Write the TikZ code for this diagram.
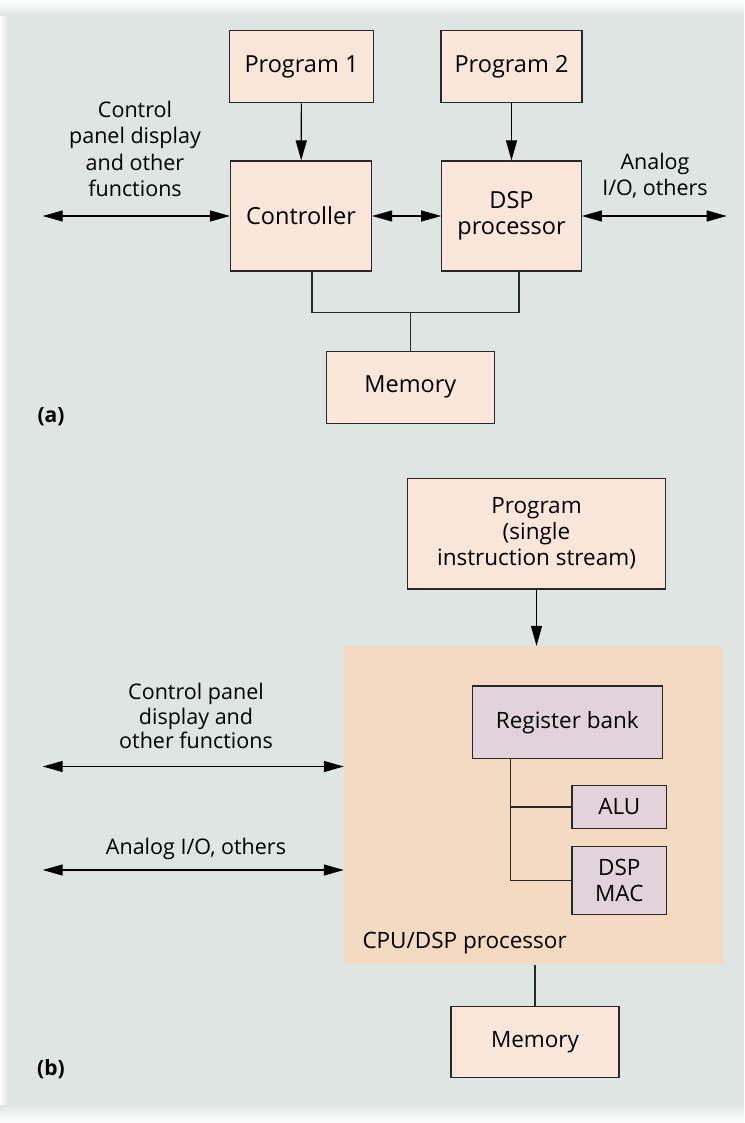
\documentclass[tikz,border=0pt]{standalone}
\usepackage{fontspec}
\setmainfont{Open Sans}
\usepackage{tikz}
\usetikzlibrary{arrows.meta}

\definecolor{bgcol}{RGB}{221,230,226}
\definecolor{boxpink}{RGB}{252,229,218}
\definecolor{cpupeach}{RGB}{243,218,192}
\definecolor{reglilac}{RGB}{226,211,219}
\definecolor{edgecol}{RGB}{40,40,40}

\tikzset{
  unitbox/.style={draw=edgecol, line width=1.2pt, fill=boxpink, inner sep=0pt, align=center},
  innerbox/.style={unitbox, fill=reglilac},
  onearrow/.style={line width=1.2pt, -{Triangle[length=20pt,width=11pt]}},
  twoarrow/.style={line width=1.2pt, {Triangle[length=20pt,width=11pt]}-{Triangle[length=20pt,width=11pt]}},
  bus/.style={line width=1.2pt, draw=edgecol},
  atext/.style={font=\fontsize{23.5}{26}\selectfont},
  btext/.style={font=\fontsize{22.5}{26}\selectfont},
  ltext/.style={align=center, font=\fontsize{21.5}{26.4}\selectfont},
  tag/.style={font=\fontsize{21}{24}\selectfont\bfseries},
}

\begin{document}
\begin{tikzpicture}[x=1pt, y=-1pt]
  \useasboundingbox (0,0) rectangle (744,1123);
  \fill[white] (0,0) rectangle (744,1123);
  \fill[bgcol] (8,16) rectangle (744,1105);
  \shade[left color=white, right color=bgcol] (0,16) rectangle (8,1105);
  \shade[top color=white, bottom color=bgcol] (0,0) rectangle (744,16);
  \shade[top color=bgcol, bottom color=white] (0,1105) rectangle (744,1123);

  % (a)
  \node[unitbox, atext, minimum width=144pt, minimum height=72pt] (prog1) at (301.5,66.7) {Program 1};
  \node[unitbox, atext, minimum width=141pt, minimum height=72pt] (prog2) at (511.5,66.7) {Program 2};
  \node[unitbox, atext, minimum width=141pt, minimum height=110pt] (ctrl) at (301,216) {Controller};
  \node[unitbox, atext, minimum width=139.5pt, minimum height=110pt] (dsp) at (511.5,216) {DSP\\processor};
  \node[unitbox, atext, minimum width=168pt, minimum height=72pt] (mema) at (410.3,387.3) {Memory};
  \node[ltext] (ctrltext) at (135,149) {Control\\panel display\\and other\\functions};
  \node[ltext] (analogtext) at (655,176) {Analog\\I/O, others};
  \node[tag] (laba) at (51,417) {(a)};

  \coordinate (ctrlend) at (42.7,216);
  \coordinate (analogend) at (726.7,216);
  \coordinate (bus) at (410.3,312.3);

  \draw[onearrow] (prog1) -- (ctrl);
  \draw[onearrow] (prog2) -- (dsp);
  \draw[twoarrow] (ctrlend) -- (ctrl);
  \draw[twoarrow] (ctrl) -- (dsp);
  \draw[twoarrow] (dsp) -- (analogend);
  \draw[bus] ([xshift=11pt]ctrl.south) |- (bus) -| ([xshift=7.5pt]dsp.south);
  \draw[bus] (bus) -- (mema);

  % (b)
  \node[unitbox, btext, minimum width=258.4pt, minimum height=110.7pt] (prog) at (536.5,533.6) {Program\\(single\\instruction stream)};
  \node[fill=cpupeach, minimum width=379pt, minimum height=318.3pt, inner sep=0pt] (cpu) at (533.5,805.2) {};
  \node[innerbox, btext, minimum width=190pt, minimum height=72.3pt] (reg) at (567.3,722.2) {Register bank};
  \node[innerbox, btext, minimum width=94.7pt, minimum height=42.6pt] (alu) at (619.3,807) {ALU};
  \node[innerbox, btext, minimum width=94.7pt, minimum height=68.4pt] (mac) at (619.3,880.6) {DSP\\MAC};
  \node[anchor=west, inner sep=0pt, btext] (cputext) at (362.3,943) {CPU/DSP processor};
  \node[unitbox, btext, minimum width=168pt, minimum height=71pt] (memb) at (535,1042.2) {Memory};
  \node[ltext, font=\fontsize{21.5}{24.5}\selectfont] (paneltext) at (196,716) {Control panel\\display and\\other functions};
  \node[ltext] (iotext) at (196,849) {Analog I/O, others};
  \node[tag] (labb) at (51,1069) {(b)};

  \coordinate (panelend) at (42.7,766.5);
  \coordinate (ioend) at (42.7,870);
  \coordinate (tap) at ([xshift=38.7pt]reg.south west);

  \draw[onearrow] (prog) -- (prog.south |- cpu.north);
  \draw[twoarrow] (panelend) -- (panelend -| cpu.west);
  \draw[twoarrow] (ioend) -- (ioend -| cpu.west);
  \draw[bus] (tap) |- (mac.west);
  \draw[bus] (alu.west) -| (tap);
  \draw[bus] (cpu.south -| memb.north) -- (memb);
\end{tikzpicture}
\end{document}
